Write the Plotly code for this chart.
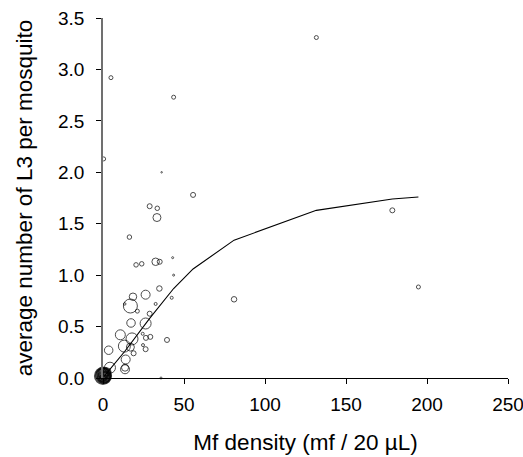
import plotly.graph_objects as go

# scatter data: Mf density, average L3 per mosquito, marker diameter (relative sample size)
mf_density = [131.7, 4.9, 43.6, 0.4, 36.2, 55.6, 28.8, 33.5, 33.3, 16.3, 178.6,
              20.4, 23.9, 32.5, 35.0, 43.0, 43.6, 34.8, 42.4, 80.9, 194.7,
              18.5, 26.3, 16.9, 13.4, 32.5, 28.8, 21.2, 17.3, 26.3, 10.7,
              17.9, 24.5, 29.2, 26.5, 39.5, 24.7, 26.3, 3.5, 13.2, 16.9,
              18.9, 14.0, 13.6, 13.6, 4.3, 2.5, 35.8,
              0.0, 0.3, 0.6, 0.2, 0.8, 0.1, 1.0]
avg_l3 = [3.31, 2.92, 2.73, 2.13, 2.00, 1.78, 1.67, 1.65, 1.56, 1.37, 1.63,
          1.10, 1.11, 1.13, 1.13, 1.17, 1.00, 0.87, 0.78, 0.765, 0.885,
          0.79, 0.81, 0.70, 0.72, 0.72, 0.625, 0.65, 0.535, 0.53, 0.42,
          0.38, 0.43, 0.40, 0.39, 0.37, 0.32, 0.28, 0.27, 0.31, 0.30,
          0.24, 0.18, 0.085, 0.10, 0.10, 0.06, 0.00,
          0.02, 0.03, 0.01, 0.04, 0.02, 0.00, 0.03]
marker_diam = [4, 4, 4, 4, 1.5, 5, 5, 4.5, 8, 4.5, 5,
               4.5, 4.5, 7.5, 5, 2, 2, 5.5, 3, 5.5, 4,
               7.5, 9, 14, 2.5, 3, 5, 4, 8.5, 11, 10,
               12, 3, 5, 5, 5, 3, 5, 8.5, 12, 8,
               5, 9, 9, 7, 11, 8, 2,
               16, 14, 12, 10, 8, 6, 4]
n_cluster = 7  # last points form the dense cluster at the origin

# fitted curve
fit_x = [0.4, 13.5, 28.8, 43.6, 55.6, 80.9, 131.7, 178.6, 194.7]
fit_y = [0.01, 0.26, 0.58, 0.87, 1.06, 1.34, 1.63, 1.74, 1.76]

line_w = [1.0] * (len(mf_density) - n_cluster) + [2.2] * n_cluster

fig = go.Figure()
fig.add_trace(go.Scatter(
    x=mf_density, y=avg_l3, mode="markers",
    marker=dict(size=marker_diam, color="rgba(0,0,0,0)", symbol="circle",
                line=dict(color="black", width=line_w)),
    cliponaxis=False, showlegend=False))
fig.add_trace(go.Scatter(
    x=fit_x, y=fit_y, mode="lines",
    line=dict(color="black", width=1.1),
    cliponaxis=False, showlegend=False))

fig.update_layout(
    width=523, height=457,
    margin=dict(l=103, r=15, t=18, b=79),
    paper_bgcolor="white", plot_bgcolor="white",
    font=dict(family="Liberation Sans, Arial, sans-serif", size=19, color="black"),
    xaxis=dict(range=[0, 250], tickvals=[0, 50, 100, 150, 200, 250],
               ticks="outside", ticklen=5, tickcolor="black", tickwidth=1,
               showline=True, linecolor="black", linewidth=1,
               showgrid=False, zeroline=False, automargin=False,
               ticklabelstandoff=4, ticklabeloverflow="allow",
               title=dict(text="Mf density (mf / 20 µL)", standoff=20,
                          font=dict(size=22.5))),
    yaxis=dict(range=[0, 3.5], tickvals=[0, 0.5, 1, 1.5, 2, 2.5, 3, 3.5],
               ticktext=["0.0", "0.5", "1.0", "1.5", "2.0", "2.5", "3.0", "3.5"],
               ticks="outside", ticklen=5, tickcolor="black", tickwidth=1,
               showline=True, linecolor="#707070", linewidth=1.5,
               showgrid=False, zeroline=False, automargin=False,
               ticklabelstandoff=8, ticklabeloverflow="allow",
               title=dict(text="average number of L3 per mosquito", standoff=19,
                          font=dict(size=22.5))),
)

fig.write_html("out.html")
